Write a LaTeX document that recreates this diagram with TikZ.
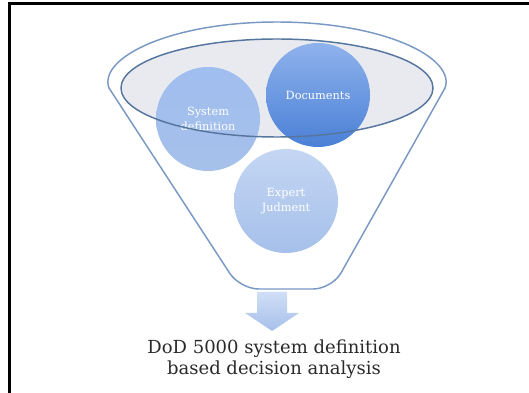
\documentclass[tikz,border=0pt]{standalone}
\usepackage{fontspec}
\setmainfont{DejaVu Serif}
\usepackage{tikz}
\usepackage{xcolor}

\definecolor{borda}{HTML}{7A98C4}
\definecolor{bordaesc}{HTML}{56769F}
\definecolor{cinzaelipse}{HTML}{E8EAF0}
\definecolor{texto}{HTML}{2A2A2A}
\definecolor{azulclaro}{HTML}{C4D6F3}
\definecolor{azulmedio}{HTML}{8FB2EC}
\definecolor{azulforte}{HTML}{4A80D6}
\definecolor{azulbaixo}{HTML}{A6C0EA}

\begin{document}
\begin{tikzpicture}[x=0.75pt,y=0.75pt,
  bola/.style={circle,minimum size=78pt,inner sep=0pt,align=center,text=white,font=\fontsize{8.5}{11}\selectfont}] %estilo das bolas azuis

\useasboundingbox (0,0) rectangle (529,393);

%----------------------------------------------------
%Moldura (so lados de cima e da esquerda)
%----------------------------------------------------
\draw[line width=2.25pt] (9,0) -- (9,389) -- (529,389);

%----------------------------------------------------
%Funil
%----------------------------------------------------
\draw[borda, line width=1.1pt, line cap=round] (109,305) .. controls (98,335) and (170,371) .. (277,371) .. controls (384,371) and (456,335) .. (445,305); %borda de cima do funil
\draw[borda, line width=1.1pt, line cap=round, rounded corners=14pt] (109,305) -- (240,104) -- (332,104) -- (445,305); %lados e fundo do funil
\fill[cinzaelipse] (277,305) ellipse [x radius=156, y radius=49]; %boca do funil

%----------------------------------------------------
%Bolas
%----------------------------------------------------
\node[bola, top color=azulclaro, bottom color=azulbaixo] (julgamento) at (286,192) {Expert\\Judment};
\node[bola, top color=azulmedio!85!white, middle color=azulmedio!80!azulforte, bottom color=azulbaixo] (sistema) at (208,274) {System\\definition};
\node[bola, top color=azulmedio, bottom color=azulforte] (documentos) at (318,298) {Documents};

\draw[bordaesc, line width=1.1pt] (277,305) ellipse [x radius=156, y radius=49]; %contorno da boca por cima das bolas

%----------------------------------------------------
%Seta e legenda
%----------------------------------------------------
\shade[top color=azulclaro!80!white, bottom color=azulbaixo] (257,101) -- (287,101) -- (287,80) -- (299,80) -- (272,62) -- (245,80) -- (257,80) -- cycle; %seta para baixo

\node[font=\fontsize{13.5}{15.75}\selectfont, text=texto, align=center, inner sep=0pt] (legenda) at (274,34) {DoD 5000 system definition\\based decision analysis};

\end{tikzpicture}
\end{document}
